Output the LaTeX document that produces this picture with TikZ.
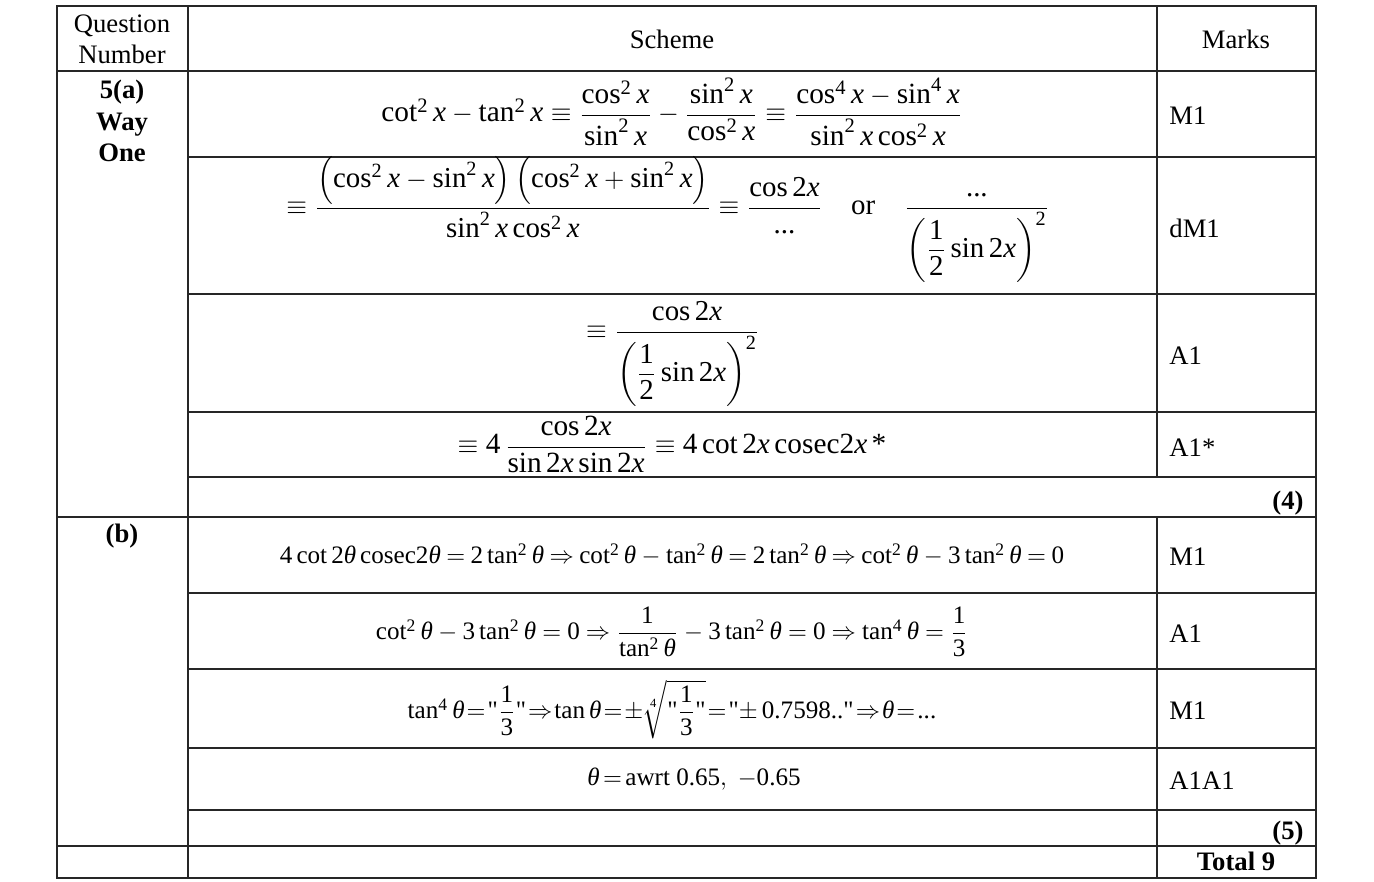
\documentclass[tikz,border=0pt]{standalone}
\usepackage{amsmath}
\usepackage{fontspec}
\setmainfont{Liberation Serif}
\usetikzlibrary{positioning}
% Times-like digits in maths
\DeclareSymbolFont{tdigits}{TU}{\rmdefault}{m}{n}
\makeatletter
\newcommand{\digitsfix}{\count@=`0
  \loop\ifnum\count@<`:\Umathcode\count@=0 \symtdigits\count@ \advance\count@\@ne\repeat
  \Umathcode`.=0 \symtdigits`.\relax}
\makeatother
\everymath\expandafter{\the\everymath\digitsfix}
\newcommand{\vx}{\textit{x}}
\newcommand{\vt}{\textit{θ}}
\newcommand{\qq}{\text{\textquotedbl}}
\newcommand{\relsp}[1]{\thickmuskip=#1mu\relax}
\tikzset{
  gridline/.style={draw=black!85, line width=0.5pt},
  hd/.style={font=\fontsize{12}{14}\selectfont, align=center, inner sep=0pt},
  qnum/.style={font=\fontsize{12}{14}\selectfont\bfseries, align=center, inner sep=0pt, anchor=north},
  sch/.style={font=\fontsize{13}{15}\selectfont, inner sep=0pt, anchor=base},
  schb/.style={font=\fontsize{11.3}{14}\selectfont, inner sep=0pt, anchor=base},
  markcell/.style={font=\fontsize{12}{14}\selectfont, inner sep=0pt, anchor=base west},
  subtot/.style={font=\fontsize{12}{14}\selectfont\bfseries, inner sep=0pt, anchor=base east},
}
\begin{document}
\begin{tikzpicture}[x=0.45pt, y=-0.45pt]
  \useasboundingbox (0,0) rectangle (1374,882);
  % frame and column lines
  \draw[gridline] (57,6) rectangle (1316,878);
  \draw[gridline] (188,6) -- (188,878);
  \draw[gridline] (1157,6) -- (1157,477);
  \draw[gridline] (1157,517) -- (1157,878);
  \draw[gridline] (57,71) -- (1316,71);
  \draw[gridline] (57,517) -- (1316,517);
  \draw[gridline] (57,846) -- (1316,846);
  \foreach \y in {157,294,412,477,593,669,748,810}
    \draw[gridline] (188,\y) -- (1316,\y);
  % header
  \node[hd, anchor=north] (qhead) at (122,14) {Question\\Number};
  \node[hd, anchor=base] (shead) at (672,49) {Scheme};
  \node[hd, anchor=base] (mhead) at (1236,49) {Marks};
  % question numbers
  \node[qnum] (qa) at (122,80) {5(a)\\Way\\One};
  \node[qnum] (qb) at (122,524) {(b)};
  % part (a)
  \node[sch, font=\fontsize{13.2}{15}\selectfont] (a1) at (672,122) {$\cot^2 \vx - \tan^2 \vx \equiv \dfrac{\cos^2 \vx}{\sin^2 \vx} - \dfrac{\sin^2 \vx}{\cos^2 \vx} \equiv \dfrac{\cos^4 \vx - \sin^4 \vx}{\sin^2 \vx \cos^2 \vx}$};
  \node[sch] (a2) at (668,215) {$\equiv \dfrac{\left(\cos^2 \vx - \sin^2 \vx\right)\left(\cos^2 \vx + \sin^2 \vx\right)}{\sin^2 \vx \cos^2 \vx} \equiv \dfrac{\cos 2\vx}{\text{...}} \quad \text{or} \quad \dfrac{\text{...}}{\left(\dfrac{1}{2}\sin 2\vx\right)^2}$};
  \node[sch] (a3) at (673,339) {$\equiv \dfrac{\cos 2\vx}{\left(\dfrac{1}{2}\sin 2\vx\right)^2}$};
  \node[sch, font=\fontsize{13.2}{15}\selectfont] (a4) at (672,454) {$\equiv 4\,\dfrac{\cos 2\vx}{\sin 2\vx \sin 2\vx} \equiv 4\cot 2\vx \,\mathrm{cosec}2\vx\,\text{*}$};
  \node[markcell] (m1) at (1169,125) {M1};
  \node[markcell] (m2) at (1169,238) {dM1};
  \node[markcell] (m3) at (1169,365) {A1};
  \node[markcell] (m4) at (1169,457) {A1*};
  \node[subtot] (s4) at (1304,510) {(4)};
  % part (b)
  \node[schb] (b1) at (672,564) {$\relsp{4}4\cot 2\vt \,\mathrm{cosec}2\vt = 2\tan^2\vt \Rightarrow \cot^2\vt - \tan^2\vt = 2\tan^2\vt \Rightarrow \cot^2\vt - 3\tan^2\vt = 0$};
  \node[schb] (b2) at (672,640) {$\relsp{4.5}\cot^2\vt - 3\tan^2\vt = 0 \Rightarrow \dfrac{1}{\tan^2\vt} - 3\tan^2\vt = 0 \Rightarrow \tan^4\vt = \dfrac{1}{3}$};
  \node[schb] (b3) at (672,719) {$\relsp{1.5}\tan^4\vt = \qq\dfrac{1}{3}\qq \Rightarrow \tan\vt = {\pm}\sqrt[4]{\qq\dfrac{1}{3}\qq} = \qq{\pm}\,0.7598..\qq \Rightarrow \vt = \text{...}$};
  \node[schb] (b4) at (694,786) {$\relsp{2.5}\vt = \text{awrt }0.65,\;\; -0.65$};
  \node[markcell] (n1) at (1169,566) {M1};
  \node[markcell] (n2) at (1169,643) {A1};
  \node[markcell] (n3) at (1169,720) {M1};
  \node[markcell] (n4) at (1169,790) {A1A1};
  \node[subtot] (s5) at (1304,840) {(5)};
  \node[subtot, anchor=base] (tot) at (1236,871) {Total 9};
\end{tikzpicture}
\end{document}
